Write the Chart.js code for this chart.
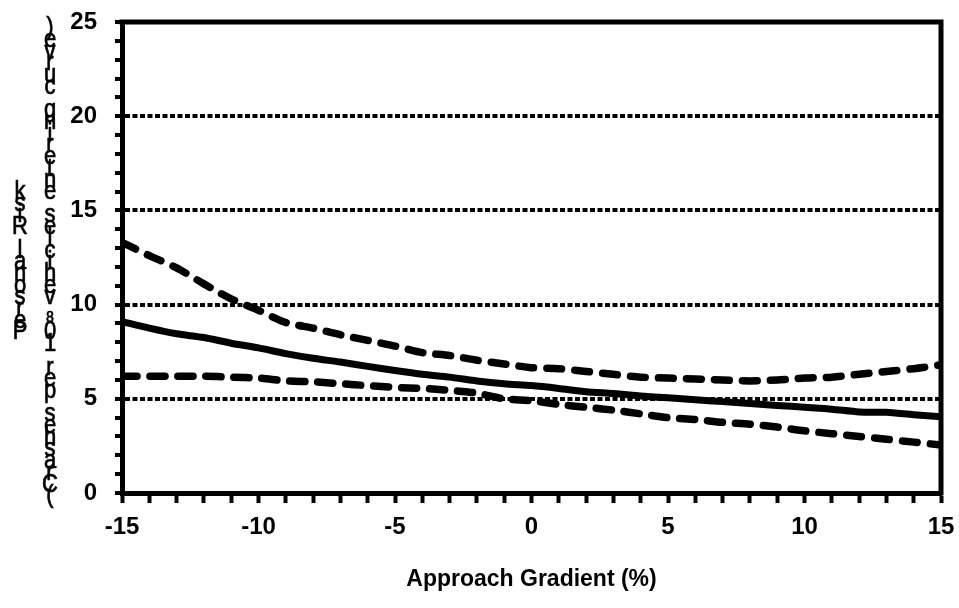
<!DOCTYPE html>
<html><head><meta charset="utf-8">
<script src="https://cdn.jsdelivr.net/npm/chart.js@4"></script>
<style>html,body{margin:0;padding:0;background:#fff}#wrap{width:959px;height:608px;position:relative}</style>
</head><body><div id="wrap"><canvas id="c" width="959" height="608"></canvas></div>
<script>
const gradients = [-15,-14,-13,-12,-11,-10,-9,-8,-7,-6,-5,-4,-3,-2,-1,0,1,2,3,4,5,6,7,8,9,10,11,12,13,14,15];
const personalRisk = [9.1,8.75,8.45,8.25,7.95,7.7,7.4,7.15,6.95,6.72,6.5,6.3,6.15,5.95,5.8,5.7,5.55,5.38,5.28,5.15,5.05,4.95,4.85,4.75,4.65,4.55,4.45,4.3,4.28,4.15,4.05];
const upperLimit = [13.3,12.6,11.95,11.1,10.3,9.7,9.05,8.75,8.4,8.1,7.8,7.45,7.3,7.05,6.85,6.65,6.6,6.45,6.3,6.15,6.1,6.05,6.0,5.95,6.0,6.1,6.15,6.3,6.45,6.6,6.8];
const lowerLimit = [6.2,6.2,6.2,6.2,6.15,6.1,5.95,5.9,5.8,5.7,5.6,5.55,5.45,5.3,5.0,4.9,4.7,4.55,4.4,4.2,4.0,3.9,3.75,3.65,3.5,3.3,3.15,3.0,2.85,2.7,2.55];
const xTickLabels = [-15,-10,-5,0,5,10,15];
const yTickLabels = [0,5,10,15,20,25];
const yGridValues = [5,10,15,20];
const xTitle = "Approach Gradient (%)";
const yTitleLines = ["Personal Risk", "(Crashes per 10\u2078 vehicles entering curve)"];

const pts = arr => gradients.map((g, i) => ({x: g, y: arr[i]}));

const frame = {
  id: 'frame',
  afterDraw(chart) {
    const {ctx, chartArea: a} = chart;
    ctx.save();
    ctx.strokeStyle = '#000';
    ctx.lineWidth = 5;
    ctx.lineCap = 'square';
    ctx.beginPath();
    ctx.moveTo(a.left, a.top);
    ctx.lineTo(a.right, a.top);
    ctx.lineTo(a.right, a.bottom);
    ctx.stroke();
    ctx.restore();
  }
};

const stackedTitle = {
  id: 'stackedTitle',
  afterDraw(chart) {
    const {ctx} = chart;
    const xs = [20, 50];
    const cy = 262, step = 11.7, sy = 1.2;
    ctx.save();
    ctx.fillStyle = '#000';
    ctx.strokeStyle = '#000';
    ctx.lineWidth = 0.6;
    ctx.font = '22px "Liberation Sans", Arial, sans-serif';
    ctx.textAlign = 'center';
    ctx.textBaseline = 'middle';
    yTitleLines.forEach((line, i) => {
      const chars = Array.from(line);
      const n = chars.length;
      chars.forEach((ch, j) => {
        const y = cy + ((n - 1) / 2 - j) * step;
        ctx.save();
        ctx.translate(xs[i], y);
        ctx.scale(1, sy);
        ctx.fillText(ch, 0, 0);
        ctx.strokeText(ch, 0, 0);
        ctx.restore();
      });
    });
    ctx.restore();
  }
};

const tickFont = {family: '"Liberation Sans", Arial, sans-serif', size: 24, weight: 'bold'};

new Chart(document.getElementById('c'), {
  type: 'line',
  data: {
    datasets: [
      {data: pts(upperLimit), borderColor: '#000', borderWidth: 7.5, borderDash: [15, 13], borderCapStyle: 'round', pointRadius: 0, tension: 0.25, fill: false},
      {data: pts(lowerLimit), borderColor: '#000', borderWidth: 7.5, borderDash: [15, 13], borderCapStyle: 'round', pointRadius: 0, tension: 0.25, fill: false},
      {data: pts(personalRisk), borderColor: '#000', borderWidth: 7, pointRadius: 0, tension: 0.25, fill: false}
    ]
  },
  options: {
    responsive: false,
    devicePixelRatio: 1,
    animation: false,
    layout: {padding: {left: 0, right: 18, top: 22, bottom: 0}},
    plugins: {legend: {display: false}, tooltip: {enabled: false}},
    scales: {
      x: {
        type: 'linear', min: -15, max: 15,
        ticks: {stepSize: 1, autoSkip: false, maxRotation: 0, color: '#000', font: tickFont, padding: 10,
          callback: v => xTickLabels.includes(v) ? String(v) : ''},
        grid: {drawOnChartArea: false, drawTicks: true, tickLength: 10, tickWidth: 4, tickColor: '#000'},
        border: {display: true, width: 5, color: '#000'},
        title: {display: true, text: xTitle, color: '#000', font: {family: '"Liberation Sans", Arial, sans-serif', size: 23, weight: 'bold'}, padding: {top: 0, bottom: 15}},
        afterFit: s => { s.height = 115; s.paddingLeft = 0; s.paddingRight = 0; }
      },
      y: {
        min: 0, max: 25,
        ticks: {stepSize: 1, autoSkip: false, color: '#000', font: tickFont, padding: 18,
          callback: v => yTickLabels.includes(v) ? String(v) : ''},
        grid: {drawOnChartArea: true, drawTicks: true, tickLength: 7, tickWidth: 4, tickColor: '#000', lineWidth: 4,
          color: c => (c.tick && yGridValues.includes(c.tick.value)) ? '#000' : 'rgba(0,0,0,0)'},
        border: {display: true, width: 5, color: '#000', dash: [5, 2.5]},
        afterFit: s => { s.width = 122; s.paddingTop = 0; s.paddingBottom = 0; }
      }
    }
  },
  plugins: [frame, stackedTitle]
});
</script></body></html>
